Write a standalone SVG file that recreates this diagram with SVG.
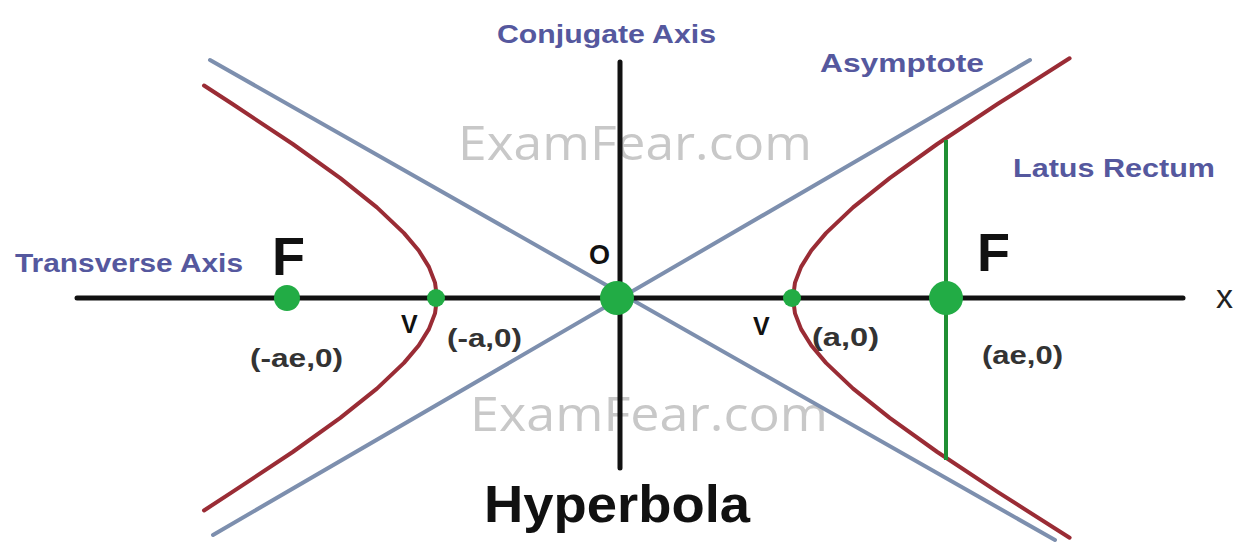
<svg xmlns="http://www.w3.org/2000/svg" width="1240" height="546" viewBox="0 0 1240 546">
<style>
.wm{font-family:"Open Sans","Liberation Sans",sans-serif;font-size:48px;fill:#c8c8c8}
.lbl{font-family:"Liberation Sans",Arial,sans-serif;font-weight:bold;font-size:26px;fill:#55589e}
.coord{font-family:"Liberation Sans",Arial,sans-serif;font-weight:bold;font-size:25px;fill:#333}
.big{font-family:"Liberation Sans",Arial,sans-serif;font-weight:bold;fill:#111}
.axis{stroke:#111;stroke-width:5;stroke-linecap:round;fill:none}
.asym{stroke:#7d8fae;stroke-width:4;stroke-linecap:round;fill:none}
.hyp{stroke:#9a2c35;stroke-width:4;stroke-linecap:round;stroke-linejoin:round;fill:none}
.lr{stroke:#1f8f34;stroke-width:4;fill:none}
.pt{fill:#22ac45}
</style>
<rect width="1240" height="546" fill="#ffffff"/>
<g id="watermark">
<text class="wm" x="458" y="160" textLength="354" lengthAdjust="spacingAndGlyphs">ExamFear.com</text>
<text class="wm" x="470" y="431" textLength="358" lengthAdjust="spacingAndGlyphs">ExamFear.com</text>
</g>
<g id="connectors">
<g id="asymptotes">
<line class="asym" x1="210" y1="60" x2="1055" y2="540"/>
<line class="asym" x1="1030" y1="60" x2="213" y2="535"/>
</g>
<g id="hyperbola">
<path class="hyp" d="M1069.6,58.3 L997.9,103.8 L937.3,144 L889.7,178.1 L853.1,207.4 L826,233.1 L811.3,250.5 L801.1,266.9 L795,282.6 L793,298 L795,313.4 L801.1,329.1 L811.3,345.5 L826,362.9 L853.1,388.6 L889.7,417.9 L937.3,452 L997.9,492.2 L1069.6,537.7"/>
<path class="hyp" d="M204,85.5 L232.1,103.8 L292.7,144 L340.3,178.1 L376.9,207.4 L404,233.1 L418.7,250.5 L428.9,266.9 L435,282.6 L437,298 L435,313.4 L428.9,329.1 L418.7,345.5 L404,362.9 L376.9,388.6 L340.3,417.9 L292.7,452 L232.1,492.2 L204,510.5"/>
</g>
<g id="axes">
<line class="axis" x1="77" y1="298" x2="1183" y2="298"/>
<line class="axis" x1="620" y1="62" x2="620" y2="468"/>
</g>
<line id="latus-rectum" class="lr" x1="946" y1="140" x2="946" y2="460"/>
</g>
<g id="point-O"><circle class="pt" cx="617" cy="298" r="17"/></g>
<g id="point-F-left"><circle class="pt" cx="287" cy="298" r="13"/></g>
<g id="point-F-right"><circle class="pt" cx="946" cy="298" r="17"/></g>
<g id="point-V-left"><circle class="pt" cx="436" cy="298" r="9"/></g>
<g id="point-V-right"><circle class="pt" cx="792" cy="298" r="9"/></g>
<g id="labels">
<text class="lbl" x="497" y="43" textLength="219" lengthAdjust="spacingAndGlyphs">Conjugate Axis</text>
<text class="lbl" x="820" y="72" textLength="164" lengthAdjust="spacingAndGlyphs">Asymptote</text>
<text class="lbl" x="1013" y="177" textLength="202" lengthAdjust="spacingAndGlyphs">Latus Rectum</text>
<text class="lbl" x="15" y="272" textLength="228" lengthAdjust="spacingAndGlyphs">Transverse Axis</text>
<text class="big" x="272" y="275" font-size="54">F</text>
<text class="big" x="977" y="271" font-size="54">F</text>
<text x="1216" y="308" font-family="Liberation Sans, Arial, sans-serif" font-size="34" fill="#222">x</text>
<text class="big" x="589" y="264" font-size="27" fill="#222">O</text>
<text class="big" x="401" y="333" font-size="25" fill="#222">V</text>
<text class="big" x="753" y="335" font-size="25" fill="#222">V</text>
<text class="coord" x="447" y="347" textLength="75" lengthAdjust="spacingAndGlyphs">(-a,0)</text>
<text class="coord" x="812" y="346" textLength="67" lengthAdjust="spacingAndGlyphs">(a,0)</text>
<text class="coord" x="250" y="367" textLength="93" lengthAdjust="spacingAndGlyphs">(-ae,0)</text>
<text class="coord" x="982" y="364" textLength="81" lengthAdjust="spacingAndGlyphs">(ae,0)</text>
<text class="big" x="484" y="522" font-size="52" textLength="266" lengthAdjust="spacingAndGlyphs">Hyperbola</text>
</g>
</svg>
